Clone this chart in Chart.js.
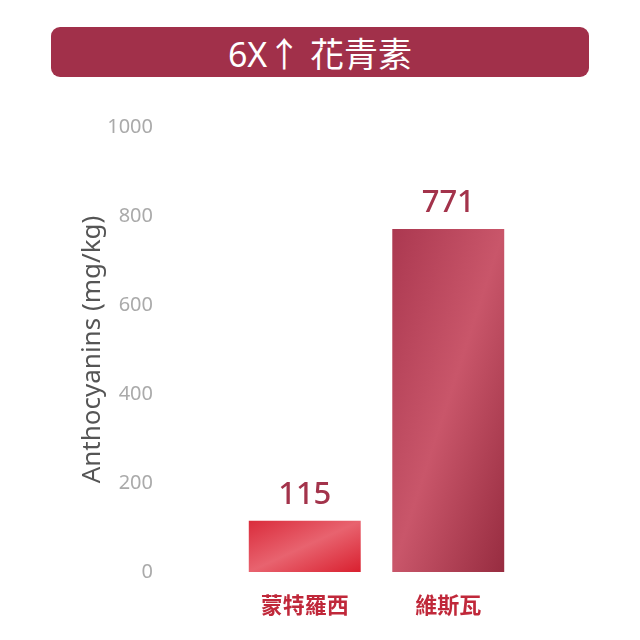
<!DOCTYPE html>
<html>
<head>
<meta charset="utf-8">
<script src="https://cdn.jsdelivr.net/npm/chart.js@4/dist/chart.umd.min.js"></script>
<style>
  body { margin: 0; background: #fff; }
  #wrap { position: relative; width: 640px; height: 640px; }
  #banner {
    position: absolute; left: 51px; top: 27px; width: 538px; height: 50px;
    background: #a1304a; border-radius: 9px; color: #fff;
    font: 34px "Noto Sans", "Noto Sans CJK TC", sans-serif;
    display: flex; align-items: center; justify-content: center;
  }
  canvas { position: absolute; left: 0; top: 0; }
</style>
</head>
<body>
<div id="wrap">
  <div id="banner">6X↑ 花青素</div>
  <canvas id="chart" width="640" height="640"></canvas>
</div>
<script>
// data
const categories = ["蒙特羅西", "維斯瓦"];
const values = [115, 771];
const yTicks = [0, 200, 400, 600, 800, 1000];

// bar shading: [dark, light, dark] across the bar's diagonal
const shades = [
  ["#da2c3c", "#e8636f", "#d9202f"],
  ["#ab3850", "#c9566a", "#972c40"],
];

function barFill(c) {
  const chart = c.chart;
  const i = c.dataIndex;
  if (!chart.chartArea) return shades[i][0];
  const x = chart.scales.x.getPixelForValue(i);
  const top = chart.scales.y.getPixelForValue(values[i]);
  const bottom = chart.scales.y.getPixelForValue(0);
  const w = 112, h = bottom - top;
  const cy = (top + bottom) / 2;
  const k = (w * h) / (w * w + h * h);
  const g = chart.ctx.createLinearGradient(x - k * h, cy - k * w, x + k * h, cy + k * w);
  g.addColorStop(0, shades[i][0]);
  g.addColorStop(0.5, shades[i][1]);
  g.addColorStop(1, shades[i][2]);
  return g;
}

// value labels over the bars
const valueLabels = {
  id: "valueLabels",
  afterDatasetsDraw(chart) {
    const ctx = chart.ctx;
    const meta = chart.getDatasetMeta(0);
    ctx.save();
    ctx.fillStyle = "#a3334b";
    ctx.font = '500 31px "Noto Sans", sans-serif';
    ctx.textAlign = "center";
    meta.data.forEach((bar, i) => {
      ctx.fillText(values[i], bar.x, bar.y - 17);
    });
    ctx.restore();
  },
};

new Chart(document.getElementById("chart"), {
  type: "bar",
  data: {
    labels: categories,
    datasets: [{
      data: values,
      backgroundColor: barFill,
      borderWidth: 0,
      barPercentage: 0.78,
      categoryPercentage: 1,
    }],
  },
  options: {
    responsive: false,
    animation: false,
    layout: { padding: { left: 77, right: 120, top: 127, bottom: 0 } },
    plugins: { legend: { display: false }, tooltip: { enabled: false } },
    scales: {
      x: {
        grid: { display: false },
        border: { display: false },
        ticks: {
          color: "#c0283a",
          padding: 11,
          font: { family: '"Noto Sans CJK TC", sans-serif', size: 22, weight: "bold" },
        },
        afterFit(s) { s.height = 68; },
      },
      y: {
        min: 0,
        max: 1000,
        grid: { display: false },
        border: { display: false },
        afterBuildTicks(s) { s.ticks = yTicks.map((v) => ({ value: v })); },
        ticks: {
          color: "#aaaaaa",
          padding: 72,
          font: { family: '"Noto Sans", sans-serif', size: 20 },
          callback: (v) => String(v),
        },
        title: {
          display: true,
          text: "Anthocyanins (mg/kg)",
          color: "#555555",
          padding: 0,
          font: { family: '"Noto Sans", sans-serif', size: 26 },
        },
        afterFit(s) {
          s.width = 156;
          s.paddingTop = 0;
          s.paddingBottom = 0;
        },
      },
    },
  },
  plugins: [valueLabels],
});
</script>
</body>
</html>
